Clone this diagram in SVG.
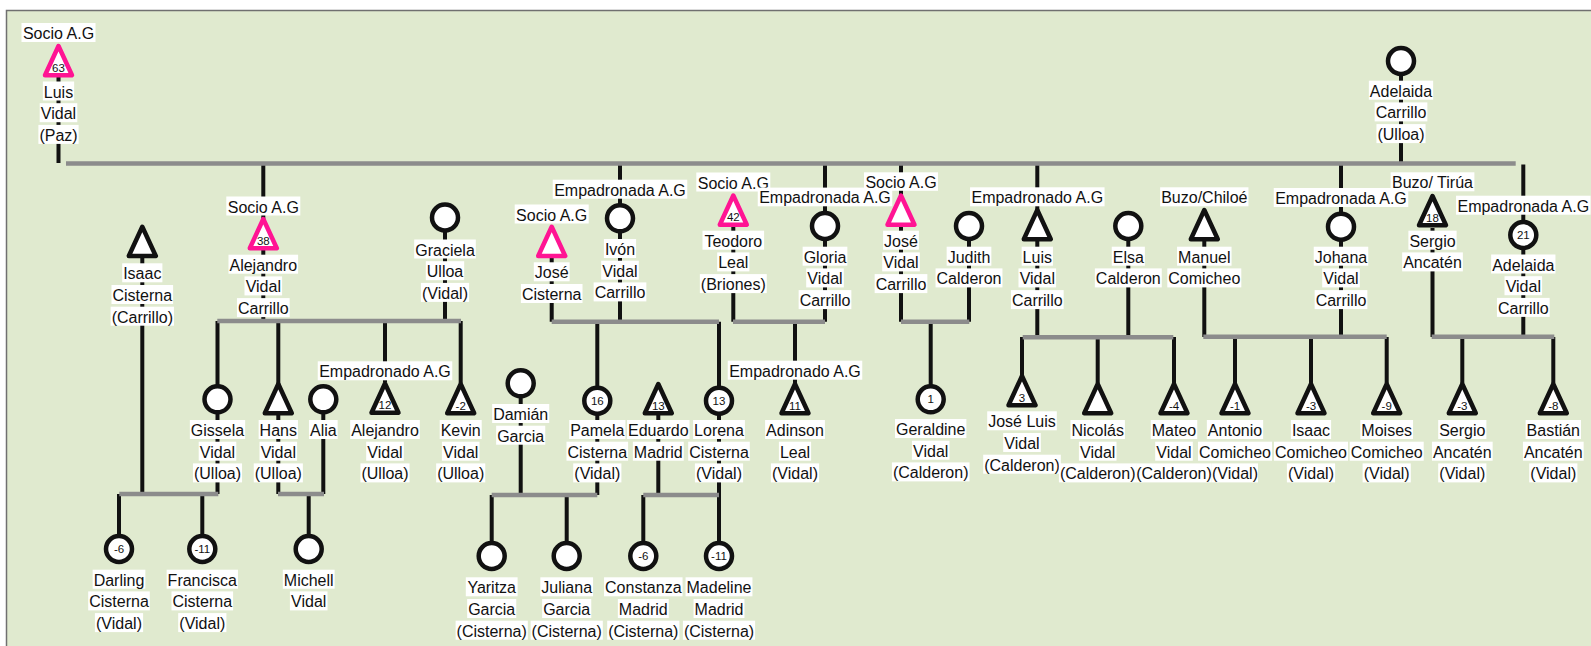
<svg xmlns="http://www.w3.org/2000/svg" xmlns:xlink="http://www.w3.org/1999/xlink" width="1591" height="646" viewBox="0 0 1591 646">
<style>
.t{font-family:"Liberation Sans",Arial,sans-serif;font-size:16px;text-anchor:middle;fill:#111}
.n{font-family:"Liberation Sans",Arial,sans-serif;font-size:11.5px;text-anchor:middle;fill:#111}
.b{fill:#fff}
.sh{fill:#fff;stroke:#111;stroke-width:4.5;stroke-linejoin:round}
.pk{stroke:#FF1493}
.ln{fill:none;stroke:#111;stroke-width:4}
.gr{fill:none;stroke:#8c8c8c;stroke-width:4.5}
</style>
<defs>
<path id="tri" d="M0,2.5 L13.5,31.75 L-13.5,31.75 Z"/>
</defs>
<rect x="0" y="0" width="1591" height="646" fill="#fff"/>
<rect x="6.5" y="10.5" width="1600" height="660" fill="#E0EACF" stroke="#707070" stroke-width="1.5"/>
<g id="connectors">
<path class="ln" d="M58.5,77V163 M1401,74V163 M263.3,163V321 M142.3,258V494 M445,230V321 M460.7,321V383 M385,321V382 M278.3,321V494 M217.5,321V494 M323.3,399V494 M308.7,494V549 M119,494V549 M202.3,494V549 M551.7,258V321.7 M620,163V321.7 M733.3,227V321.7 M825,163V321.7 M597.3,321.7V495 M719,321.7V556 M795,321.7V383 M520.7,383V495 M658.3,415V495 M491.7,495V556 M566.7,495V556 M643.3,495V556 M901,163V321.7 M969,226V321.7 M930.7,321.7V399 M1037.3,163V337 M1128.3,226V337 M1022,337V375 M1097.7,337V383 M1174,337V383 M1204.3,241V337 M1341,163V337 M1235,337V383 M1311,337V383 M1386.7,337V383 M1432.5,228V337 M1523.3,164.5V337 M1462.3,337V383 M1553.3,337V383"/>
<path class="gr" d="M66,163.5H1515.7 M217.3,321H461 M119.3,494H218.3 M278,494H324 M551.7,321.7H719 M733,321.7H825 M491.7,495H597.3 M643.3,495H719 M901,321.7H969.3 M1022.7,337.3H1173.3 M1203.3,336.7H1386.7 M1431.7,336.7H1554.3"/>
</g>

<g id="n-luis-vidal-paz">
<rect class="b" x="21.5" y="23" width="74" height="19"/><text class="t" x="58.5" y="39">Socio A.G</text>
<use xlink:href="#tri" class="sh pk" x="58.5" y="43.5"/><text class="n" x="58.5" y="71.5">63</text>
<rect class="b" x="42.85" y="81.5" width="31.3" height="19"/><text class="t" x="58.5" y="97.5">Luis</text>
<rect class="b" x="39.7" y="103.2" width="37.6" height="19"/><text class="t" x="58.5" y="119.2">Vidal</text>
<rect class="b" x="38.4" y="124.9" width="40.2" height="19"/><text class="t" x="58.5" y="140.9">(Paz)</text>
</g>

<g id="n-adelaida-carrillo-ulloa">
<circle class="sh" cx="1401" cy="61" r="13"/>
<rect class="b" x="1368.85" y="80.7" width="64.3" height="19"/><text class="t" x="1401" y="96.7">Adelaida</text>
<rect class="b" x="1374.65" y="102.4" width="52.7" height="19"/><text class="t" x="1401" y="118.4">Carrillo</text>
<rect class="b" x="1376.45" y="124.1" width="49.1" height="19"/><text class="t" x="1401" y="140.1">(Ulloa)</text>
</g>

<g id="n-isaac-cisterna">
<use xlink:href="#tri" class="sh" x="142.3" y="224.3"/>
<rect class="b" x="122.2" y="263.3" width="40.2" height="19"/><text class="t" x="142.3" y="279.3">Isaac</text>
<rect class="b" x="111.5" y="285" width="61.6" height="19"/><text class="t" x="142.3" y="301">Cisterna</text>
<rect class="b" x="110.65" y="306.7" width="63.3" height="19"/><text class="t" x="142.3" y="322.7">(Carrillo)</text>
</g>

<g id="n-alejandro-vidal-carrillo">
<rect class="b" x="226.3" y="196.5" width="74" height="19"/><text class="t" x="263.3" y="212.5">Socio A.G</text>
<use xlink:href="#tri" class="sh pk" x="263.3" y="216.5"/><text class="n" x="263.3" y="244.5">38</text>
<rect class="b" x="228.5" y="254.7" width="69.6" height="19"/><text class="t" x="263.3" y="270.7">Alejandro</text>
<rect class="b" x="244.5" y="276.4" width="37.6" height="19"/><text class="t" x="263.3" y="292.4">Vidal</text>
<rect class="b" x="236.95" y="298.1" width="52.7" height="19"/><text class="t" x="263.3" y="314.1">Carrillo</text>
</g>

<g id="n-graciela-ulloa">
<circle class="sh" cx="445" cy="217.5" r="13"/>
<rect class="b" x="414.2" y="239.5" width="61.6" height="19"/><text class="t" x="445" y="255.5">Graciela</text>
<rect class="b" x="425.8" y="261.2" width="38.4" height="19"/><text class="t" x="445" y="277.2">Ulloa</text>
<rect class="b" x="420.9" y="282.9" width="48.2" height="19"/><text class="t" x="445" y="298.9">(Vidal)</text>
</g>

<g id="n-jose-cisterna">
<rect class="b" x="514.7" y="204.5" width="74" height="19"/><text class="t" x="551.7" y="220.5">Socio A.G</text>
<use xlink:href="#tri" class="sh pk" x="551.7" y="224.3"/>
<rect class="b" x="533.8" y="262.3" width="35.8" height="19"/><text class="t" x="551.7" y="278.3">José</text>
<rect class="b" x="520.9" y="284" width="61.6" height="19"/><text class="t" x="551.7" y="300">Cisterna</text>
</g>

<g id="n-ivon-vidal-carrillo">
<rect class="b" x="552.75" y="179.7" width="134.5" height="19"/><text class="t" x="620" y="195.7">Empadronada A.G</text>
<circle class="sh" cx="620" cy="218.3" r="13"/>
<rect class="b" x="603.9" y="239" width="32.2" height="19"/><text class="t" x="620" y="255">Ivón</text>
<rect class="b" x="601.2" y="260.7" width="37.6" height="19"/><text class="t" x="620" y="276.7">Vidal</text>
<rect class="b" x="593.65" y="282.4" width="52.7" height="19"/><text class="t" x="620" y="298.4">Carrillo</text>
</g>

<g id="n-teodoro-leal">
<rect class="b" x="696.3" y="172.5" width="74" height="19"/><text class="t" x="733.3" y="188.5">Socio A.G</text>
<use xlink:href="#tri" class="sh pk" x="733.3" y="193"/><text class="n" x="733.3" y="221">42</text>
<rect class="b" x="702.5" y="230.7" width="61.6" height="19"/><text class="t" x="733.3" y="246.7">Teodoro</text>
<rect class="b" x="717.2" y="252.4" width="32.2" height="19"/><text class="t" x="733.3" y="268.4">Leal</text>
<rect class="b" x="699.85" y="274.1" width="66.9" height="19"/><text class="t" x="733.3" y="290.1">(Briones)</text>
</g>

<g id="n-gloria-vidal-carrillo">
<rect class="b" x="757.75" y="187.6" width="134.5" height="18.7"/><text class="t" x="825" y="203.3">Empadronada A.G</text>
<circle class="sh" cx="825" cy="226" r="13"/>
<rect class="b" x="802.65" y="246.7" width="44.7" height="19"/><text class="t" x="825" y="262.7">Gloria</text>
<rect class="b" x="806.2" y="268.4" width="37.6" height="19"/><text class="t" x="825" y="284.4">Vidal</text>
<rect class="b" x="798.65" y="290.1" width="52.7" height="19"/><text class="t" x="825" y="306.1">Carrillo</text>
</g>

<g id="n-jose-vidal-carrillo">
<rect class="b" x="864" y="172.3" width="74" height="18.5"/><text class="t" x="901" y="188.3">Socio A.G</text>
<use xlink:href="#tri" class="sh pk" x="901" y="193"/>
<rect class="b" x="883.1" y="230.7" width="35.8" height="19"/><text class="t" x="901" y="246.7">José</text>
<rect class="b" x="882.2" y="252.4" width="37.6" height="19"/><text class="t" x="901" y="268.4">Vidal</text>
<rect class="b" x="874.65" y="274.1" width="52.7" height="19"/><text class="t" x="901" y="290.1">Carrillo</text>
</g>

<g id="n-judith-calderon">
<circle class="sh" cx="969" cy="226" r="13"/>
<rect class="b" x="946.65" y="246.7" width="44.7" height="19"/><text class="t" x="969" y="262.7">Judith</text>
<rect class="b" x="935.55" y="268.4" width="66.9" height="19"/><text class="t" x="969" y="284.4">Calderon</text>
</g>

<g id="n-luis-vidal-carrillo">
<rect class="b" x="970.05" y="187.3" width="134.5" height="19"/><text class="t" x="1037.3" y="203.3">Empadronado A.G</text>
<use xlink:href="#tri" class="sh" x="1037.3" y="207.5"/>
<rect class="b" x="1021.65" y="246.7" width="31.3" height="19"/><text class="t" x="1037.3" y="262.7">Luis</text>
<rect class="b" x="1018.5" y="268.4" width="37.6" height="19"/><text class="t" x="1037.3" y="284.4">Vidal</text>
<rect class="b" x="1010.95" y="290.1" width="52.7" height="19"/><text class="t" x="1037.3" y="306.1">Carrillo</text>
</g>

<g id="n-elsa-calderon">
<circle class="sh" cx="1128.3" cy="226" r="13"/>
<rect class="b" x="1111.75" y="246.7" width="33.1" height="19"/><text class="t" x="1128.3" y="262.7">Elsa</text>
<rect class="b" x="1094.85" y="268.4" width="66.9" height="19"/><text class="t" x="1128.3" y="284.4">Calderon</text>
</g>

<g id="n-manuel-comicheo">
<rect class="b" x="1160.15" y="187.3" width="88.3" height="19"/><text class="t" x="1204.3" y="203.3">Buzo/Chiloé</text>
<use xlink:href="#tri" class="sh" x="1204.3" y="207.5"/>
<rect class="b" x="1177.05" y="246.7" width="54.5" height="19"/><text class="t" x="1204.3" y="262.7">Manuel</text>
<rect class="b" x="1167.3" y="268.4" width="74" height="19"/><text class="t" x="1204.3" y="284.4">Comicheo</text>
</g>

<g id="n-johana-vidal-carrillo">
<rect class="b" x="1273.75" y="188" width="134.5" height="19"/><text class="t" x="1341" y="204">Empadronada A.G</text>
<circle class="sh" cx="1341" cy="226.7" r="13"/>
<rect class="b" x="1313.75" y="246.7" width="54.5" height="19"/><text class="t" x="1341" y="262.7">Johana</text>
<rect class="b" x="1322.2" y="268.4" width="37.6" height="19"/><text class="t" x="1341" y="284.4">Vidal</text>
<rect class="b" x="1314.65" y="290.1" width="52.7" height="19"/><text class="t" x="1341" y="306.1">Carrillo</text>
</g>

<g id="n-sergio-ancaten">
<rect class="b" x="1390.6" y="172.3" width="83.8" height="19"/><text class="t" x="1432.5" y="188.3">Buzo/ Tirúa</text>
<use xlink:href="#tri" class="sh" x="1432.5" y="193.5"/><text class="n" x="1432.5" y="221.5">18</text>
<rect class="b" x="1408.4" y="230.7" width="48.2" height="19"/><text class="t" x="1432.5" y="246.7">Sergio</text>
<rect class="b" x="1402.15" y="252.4" width="60.7" height="19"/><text class="t" x="1432.5" y="268.4">Ancatén</text>
</g>

<g id="n-adelaida-vidal-carrillo">
<rect class="b" x="1456.05" y="195.7" width="134.5" height="19"/><text class="t" x="1523.3" y="211.7">Empadronada A.G</text>
<circle class="sh" cx="1523.3" cy="235" r="13"/><text class="n" x="1523.3" y="239">21</text>
<rect class="b" x="1491.15" y="254.5" width="64.3" height="19"/><text class="t" x="1523.3" y="270.5">Adelaida</text>
<rect class="b" x="1504.5" y="276.2" width="37.6" height="19"/><text class="t" x="1523.3" y="292.2">Vidal</text>
<rect class="b" x="1496.95" y="297.9" width="52.7" height="19"/><text class="t" x="1523.3" y="313.9">Carrillo</text>
</g>

<g id="n-gissela-vidal">
<circle class="sh" cx="217.5" cy="399.3" r="13"/>
<rect class="b" x="189.85" y="420" width="55.3" height="19"/><text class="t" x="217.5" y="436">Gissela</text>
<rect class="b" x="198.7" y="441.7" width="37.6" height="19"/><text class="t" x="217.5" y="457.7">Vidal</text>
<rect class="b" x="192.95" y="463.4" width="49.1" height="19"/><text class="t" x="217.5" y="479.4">(Ulloa)</text>
</g>

<g id="n-hans-vidal">
<use xlink:href="#tri" class="sh" x="278.3" y="381.5"/>
<rect class="b" x="258.65" y="420" width="39.3" height="19"/><text class="t" x="278.3" y="436">Hans</text>
<rect class="b" x="259.5" y="441.7" width="37.6" height="19"/><text class="t" x="278.3" y="457.7">Vidal</text>
<rect class="b" x="253.75" y="463.4" width="49.1" height="19"/><text class="t" x="278.3" y="479.4">(Ulloa)</text>
</g>

<g id="n-alia">
<circle class="sh" cx="323.3" cy="399.3" r="13"/>
<rect class="b" x="308.95" y="420" width="28.7" height="19"/><text class="t" x="323.3" y="436">Alia</text>
</g>

<g id="n-alejandro-vidal-ulloa">
<rect class="b" x="317.75" y="361.3" width="134.5" height="19"/><text class="t" x="385" y="377.3">Empadronado A.G</text>
<use xlink:href="#tri" class="sh" x="385" y="381"/><text class="n" x="385" y="409">12</text>
<rect class="b" x="350.2" y="420" width="69.6" height="19"/><text class="t" x="385" y="436">Alejandro</text>
<rect class="b" x="366.2" y="441.7" width="37.6" height="19"/><text class="t" x="385" y="457.7">Vidal</text>
<rect class="b" x="360.45" y="463.4" width="49.1" height="19"/><text class="t" x="385" y="479.4">(Ulloa)</text>
</g>

<g id="n-kevin-vidal">
<use xlink:href="#tri" class="sh" x="460.7" y="381.5"/><text class="n" x="460.7" y="409.5">-2</text>
<rect class="b" x="439.7" y="420" width="42" height="19"/><text class="t" x="460.7" y="436">Kevin</text>
<rect class="b" x="441.9" y="441.7" width="37.6" height="19"/><text class="t" x="460.7" y="457.7">Vidal</text>
<rect class="b" x="436.15" y="463.4" width="49.1" height="19"/><text class="t" x="460.7" y="479.4">(Ulloa)</text>
</g>

<g id="n-damian-garcia">
<circle class="sh" cx="520.7" cy="383.3" r="13"/>
<rect class="b" x="492.15" y="404" width="57.1" height="19"/><text class="t" x="520.7" y="420">Damián</text>
<rect class="b" x="496.15" y="425.7" width="49.1" height="19"/><text class="t" x="520.7" y="441.7">Garcia</text>
</g>

<g id="n-pamela-cisterna">
<circle class="sh" cx="597.3" cy="400.7" r="13"/><text class="n" x="597.3" y="404.7">16</text>
<rect class="b" x="569.2" y="420" width="56.2" height="19"/><text class="t" x="597.3" y="436">Pamela</text>
<rect class="b" x="566.5" y="441.7" width="61.6" height="19"/><text class="t" x="597.3" y="457.7">Cisterna</text>
<rect class="b" x="573.2" y="463.4" width="48.2" height="19"/><text class="t" x="597.3" y="479.4">(Vidal)</text>
</g>

<g id="n-eduardo-madrid">
<use xlink:href="#tri" class="sh" x="658.3" y="381.5"/><text class="n" x="658.3" y="409.5">13</text>
<rect class="b" x="627.05" y="420" width="62.5" height="19"/><text class="t" x="658.3" y="436">Eduardo</text>
<rect class="b" x="632.85" y="441.7" width="50.9" height="19"/><text class="t" x="658.3" y="457.7">Madrid</text>
</g>

<g id="n-lorena-cisterna">
<circle class="sh" cx="719" cy="400.7" r="13"/><text class="n" x="719" y="404.7">13</text>
<rect class="b" x="693.1" y="420" width="51.8" height="19"/><text class="t" x="719" y="436">Lorena</text>
<rect class="b" x="688.2" y="441.7" width="61.6" height="19"/><text class="t" x="719" y="457.7">Cisterna</text>
<rect class="b" x="694.9" y="463.4" width="48.2" height="19"/><text class="t" x="719" y="479.4">(Vidal)</text>
</g>

<g id="n-adinson-leal">
<rect class="b" x="727.75" y="360.7" width="134.5" height="19"/><text class="t" x="795" y="376.7">Empadronado A.G</text>
<use xlink:href="#tri" class="sh" x="795" y="381.5"/><text class="n" x="795" y="409.5">11</text>
<rect class="b" x="765.1" y="420" width="59.8" height="19"/><text class="t" x="795" y="436">Adinson</text>
<rect class="b" x="778.9" y="441.7" width="32.2" height="19"/><text class="t" x="795" y="457.7">Leal</text>
<rect class="b" x="770.9" y="463.4" width="48.2" height="19"/><text class="t" x="795" y="479.4">(Vidal)</text>
</g>

<g id="n-geraldine-vidal">
<circle class="sh" cx="930.7" cy="399.3" r="13"/><text class="n" x="930.7" y="403.3">1</text>
<rect class="b" x="895" y="419" width="71.4" height="19"/><text class="t" x="930.7" y="435">Geraldine</text>
<rect class="b" x="911.9" y="440.7" width="37.6" height="19"/><text class="t" x="930.7" y="456.7">Vidal</text>
<rect class="b" x="891.9" y="462.4" width="77.6" height="19"/><text class="t" x="930.7" y="478.4">(Calderon)</text>
</g>

<g id="n-jose-luis-vidal">
<use xlink:href="#tri" class="sh" x="1022" y="373.5"/><text class="n" x="1022" y="401.5">3</text>
<rect class="b" x="987.2" y="411.3" width="69.6" height="19"/><text class="t" x="1022" y="427.3">José Luis</text>
<rect class="b" x="1003.2" y="433" width="37.6" height="19"/><text class="t" x="1022" y="449">Vidal</text>
<rect class="b" x="983.2" y="454.7" width="77.6" height="19"/><text class="t" x="1022" y="470.7">(Calderon)</text>
</g>

<g id="n-nicolas-vidal">
<use xlink:href="#tri" class="sh" x="1097.7" y="381.5"/>
<rect class="b" x="1070.5" y="420" width="54.4" height="19"/><text class="t" x="1097.7" y="436">Nicolás</text>
<rect class="b" x="1078.9" y="441.7" width="37.6" height="19"/><text class="t" x="1097.7" y="457.7">Vidal</text>
<rect class="b" x="1058.9" y="463.4" width="77.6" height="19"/><text class="t" x="1097.7" y="479.4">(Calderon)</text>
</g>

<g id="n-mateo-vidal">
<use xlink:href="#tri" class="sh" x="1174" y="381.5"/><text class="n" x="1174" y="409.5">-4</text>
<rect class="b" x="1150.75" y="420" width="46.5" height="19"/><text class="t" x="1174" y="436">Mateo</text>
<rect class="b" x="1155.2" y="441.7" width="37.6" height="19"/><text class="t" x="1174" y="457.7">Vidal</text>
<rect class="b" x="1136.2" y="463.4" width="75.6" height="19"/><text class="t" x="1174" y="479.4">(Calderon)</text>
</g>

<g id="n-antonio-comicheo">
<use xlink:href="#tri" class="sh" x="1235" y="381.5"/><text class="n" x="1235" y="409.5">-1</text>
<rect class="b" x="1206.85" y="420" width="56.3" height="19"/><text class="t" x="1235" y="436">Antonio</text>
<rect class="b" x="1198" y="441.7" width="74" height="19"/><text class="t" x="1235" y="457.7">Comicheo</text>
<rect class="b" x="1212" y="463.4" width="46" height="19"/><text class="t" x="1235" y="479.4">(Vidal)</text>
</g>

<g id="n-isaac-comicheo">
<use xlink:href="#tri" class="sh" x="1311" y="381.5"/><text class="n" x="1311" y="409.5">-3</text>
<rect class="b" x="1290.9" y="420" width="40.2" height="19"/><text class="t" x="1311" y="436">Isaac</text>
<rect class="b" x="1274" y="441.7" width="74" height="19"/><text class="t" x="1311" y="457.7">Comicheo</text>
<rect class="b" x="1286.9" y="463.4" width="48.2" height="19"/><text class="t" x="1311" y="479.4">(Vidal)</text>
</g>

<g id="n-moises-comicheo">
<use xlink:href="#tri" class="sh" x="1386.7" y="381.5"/><text class="n" x="1386.7" y="409.5">-9</text>
<rect class="b" x="1360.35" y="420" width="52.7" height="19"/><text class="t" x="1386.7" y="436">Moises</text>
<rect class="b" x="1349.7" y="441.7" width="74" height="19"/><text class="t" x="1386.7" y="457.7">Comicheo</text>
<rect class="b" x="1362.6" y="463.4" width="48.2" height="19"/><text class="t" x="1386.7" y="479.4">(Vidal)</text>
</g>

<g id="n-sergio-ancaten-vidal">
<use xlink:href="#tri" class="sh" x="1462.3" y="381.5"/><text class="n" x="1462.3" y="409.5">-3</text>
<rect class="b" x="1438.2" y="420" width="48.2" height="19"/><text class="t" x="1462.3" y="436">Sergio</text>
<rect class="b" x="1431.95" y="441.7" width="60.7" height="19"/><text class="t" x="1462.3" y="457.7">Ancatén</text>
<rect class="b" x="1438.2" y="463.4" width="48.2" height="19"/><text class="t" x="1462.3" y="479.4">(Vidal)</text>
</g>

<g id="n-bastian-ancaten">
<use xlink:href="#tri" class="sh" x="1553.3" y="381.5"/><text class="n" x="1553.3" y="409.5">-8</text>
<rect class="b" x="1525.6" y="420" width="55.4" height="19"/><text class="t" x="1553.3" y="436">Bastián</text>
<rect class="b" x="1522.95" y="441.7" width="60.7" height="19"/><text class="t" x="1553.3" y="457.7">Ancatén</text>
<rect class="b" x="1529.2" y="463.4" width="48.2" height="19"/><text class="t" x="1553.3" y="479.4">(Vidal)</text>
</g>

<g id="n-darling-cisterna">
<circle class="sh" cx="119" cy="549" r="13"/><text class="n" x="119" y="553">-6</text>
<rect class="b" x="92.65" y="569.7" width="52.7" height="19"/><text class="t" x="119" y="585.7">Darling</text>
<rect class="b" x="88.2" y="591.4" width="61.6" height="19"/><text class="t" x="119" y="607.4">Cisterna</text>
<rect class="b" x="94.9" y="613.1" width="48.2" height="19"/><text class="t" x="119" y="629.1">(Vidal)</text>
</g>

<g id="n-francisca-cisterna">
<circle class="sh" cx="202.3" cy="549" r="13"/><text class="n" x="202.3" y="553">-11</text>
<rect class="b" x="166.65" y="569.7" width="71.3" height="19"/><text class="t" x="202.3" y="585.7">Francisca</text>
<rect class="b" x="171.5" y="591.4" width="61.6" height="19"/><text class="t" x="202.3" y="607.4">Cisterna</text>
<rect class="b" x="178.2" y="613.1" width="48.2" height="19"/><text class="t" x="202.3" y="629.1">(Vidal)</text>
</g>

<g id="n-michell-vidal">
<circle class="sh" cx="308.7" cy="549" r="13"/>
<rect class="b" x="282.8" y="569.7" width="51.8" height="19"/><text class="t" x="308.7" y="585.7">Michell</text>
<rect class="b" x="289.9" y="591.4" width="37.6" height="19"/><text class="t" x="308.7" y="607.4">Vidal</text>
</g>

<g id="n-yaritza-garcia">
<circle class="sh" cx="491.7" cy="556" r="13"/>
<rect class="b" x="465.8" y="577.3" width="51.8" height="19"/><text class="t" x="491.7" y="593.3">Yaritza</text>
<rect class="b" x="467.15" y="599" width="49.1" height="19"/><text class="t" x="491.7" y="615">Garcia</text>
<rect class="b" x="455.6" y="620.7" width="72.2" height="19"/><text class="t" x="491.7" y="636.7">(Cisterna)</text>
</g>

<g id="n-juliana-garcia">
<circle class="sh" cx="566.7" cy="556" r="13"/>
<rect class="b" x="540.35" y="577.3" width="52.7" height="19"/><text class="t" x="566.7" y="593.3">Juliana</text>
<rect class="b" x="542.15" y="599" width="49.1" height="19"/><text class="t" x="566.7" y="615">Garcia</text>
<rect class="b" x="530.6" y="620.7" width="72.2" height="19"/><text class="t" x="566.7" y="636.7">(Cisterna)</text>
</g>

<g id="n-constanza-madrid">
<circle class="sh" cx="643.3" cy="556" r="13"/><text class="n" x="643.3" y="560">-6</text>
<rect class="b" x="604.05" y="577.3" width="78.5" height="19"/><text class="t" x="643.3" y="593.3">Constanza</text>
<rect class="b" x="617.85" y="599" width="50.9" height="19"/><text class="t" x="643.3" y="615">Madrid</text>
<rect class="b" x="607.2" y="620.7" width="72.2" height="19"/><text class="t" x="643.3" y="636.7">(Cisterna)</text>
</g>

<g id="n-madeline-madrid">
<circle class="sh" cx="719" cy="556" r="13"/><text class="n" x="719" y="560">-11</text>
<rect class="b" x="685.55" y="577.3" width="66.9" height="19"/><text class="t" x="719" y="593.3">Madeline</text>
<rect class="b" x="693.55" y="599" width="50.9" height="19"/><text class="t" x="719" y="615">Madrid</text>
<rect class="b" x="682.9" y="620.7" width="72.2" height="19"/><text class="t" x="719" y="636.7">(Cisterna)</text>
</g>
</svg>
